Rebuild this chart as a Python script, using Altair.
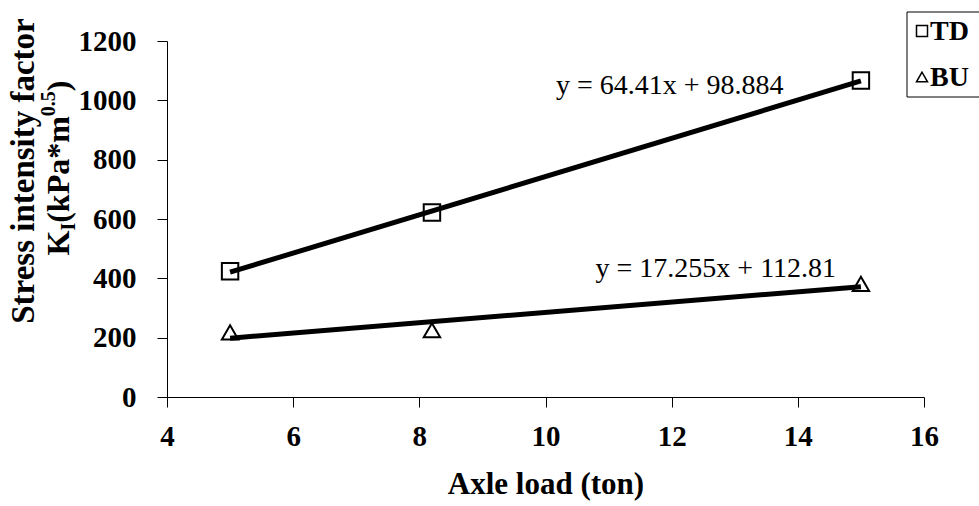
import altair as alt
import pandas as pd

# ---- data ----
series_names = ["TD", "BU"]
series_shapes = ["square", "triangle-up"]
axle_load = [5, 8.2, 15]
td_values = [424, 622, 1067]
bu_values = [218, 225, 381]
x_ticks = [4, 6, 8, 10, 12, 14, 16]
y_ticks = [0, 200, 400, 600, 800, 1000, 1200]

equation_texts = ["y = 64.41x + 98.884", "y = 17.255x + 112.81"]
equation_x = [11.97, 12.70]
equation_y = [1022, 404]

FONT = "Liberation Serif, Times New Roman, serif"

df = pd.DataFrame({
    "load": axle_load * 2,
    "k": td_values + bu_values,
    "series": ["TD"] * 3 + ["BU"] * 3,
})
eq_df = pd.DataFrame({"x": equation_x, "y": equation_y, "t": equation_texts})

x_enc = alt.X("load:Q",
              scale=alt.Scale(domain=[4, 16], nice=False, zero=False),
              axis=alt.Axis(values=x_ticks, format="d", title="Axle load (ton)", labelPadding=15,
                            labelFlush=False, labelOverlap=False, titleY=96,
                            titleBaseline="alphabetic", titleFontSize=31))
y_enc = alt.Y("k:Q",
              scale=alt.Scale(domain=[0, 1200], nice=False),
              axis=alt.Axis(values=y_ticks, format="d", title=None, labelPadding=21,
                            labelOverlap=False, labelFlush=False))

base = alt.Chart(df)

points = base.mark_point(filled=False, color="black", strokeWidth=2, size=270, opacity=1).encode(
    x=x_enc, y=y_enc,
    shape=alt.Shape("series:N",
                    scale=alt.Scale(domain=series_names, range=series_shapes),
                    legend=None),
)

trend = base.transform_regression("load", "k", groupby=["series"]).mark_line(
    color="black", strokeWidth=5).encode(x=x_enc, y=y_enc, detail="series:N")

eqs = alt.Chart(eq_df).mark_text(font=FONT, fontSize=28, color="black", align="center",
                                 baseline="alphabetic").encode(
    x=alt.X("x:Q"), y=alt.Y("y:Q"), text="t:N")

dummy = pd.DataFrame({"d": [0]})
layers = [points, trend, eqs]

# ---- legend box (drawn by hand, cut off by the right edge like the reference) ----
layers.append(alt.Chart(dummy).mark_rect(fill="white", stroke="black", strokeWidth=1).encode(
    x=alt.value(740), x2=alt.value(860), y=alt.value(-29), y2=alt.value(56)))
for i, (name, shp) in enumerate(zip(series_names, series_shapes)):
    cy = -10 + 46 * i
    layers.append(alt.Chart(dummy).mark_point(shape=shp, filled=False, color="black",
                                              strokeWidth=1.5, size=121, opacity=1).encode(
        x=alt.value(755), y=alt.value(cy)))
    layers.append(alt.Chart(dummy).mark_text(text=name, font=FONT, fontSize=28, fontWeight="bold",
                                             align="left", baseline="alphabetic",
                                             color="black").encode(
        x=alt.value(763), y=alt.value(cy + 9)))

# ---- y axis title (two lines, with subscript and superscript) ----
layers.append(alt.Chart(dummy).mark_text(text="Stress intensity factor", font=FONT, fontSize=33,
                                         fontWeight="bold", angle=270, align="center",
                                         baseline="alphabetic", color="black").encode(
    x=alt.value(-133), y=alt.value(130)))

segments = [("K", 32, 0, 0.778), ("I", 20, 6, 0.389), ("(kPa*m", 32, 0, 3.333),
            ("0.5", 20, -14, 1.25), (")", 32, 0, 0.333)]
total = sum(fs * a for _, fs, _, a in segments)
start = 127 + total / 2.0
for txt, fs, shift, a in segments:
    layers.append(alt.Chart(dummy).mark_text(text=txt, font=FONT, fontSize=fs, fontWeight="bold",
                                             angle=270, align="left", baseline="alphabetic",
                                             color="black").encode(
        x=alt.value(-98 + shift), y=alt.value(start)))
    start -= fs * a

chart = alt.layer(*layers).properties(
    width=757, height=356,
    autosize=alt.AutoSizeParams(type="none"),
    padding={"left": 167, "top": 41, "right": 55, "bottom": 109},
).configure_axis(
    labelFont=FONT, labelFontSize=29, labelFontWeight="bold", labelColor="black",
    titleFont=FONT, titleFontWeight="bold", titleColor="black",
    domainColor="black", tickColor="black", tickSize=10, grid=False,
    domainWidth=1, tickWidth=1,
).configure_view(stroke=None)

chart.save("out.html", embed_options={"renderer": "svg", "actions": False})
